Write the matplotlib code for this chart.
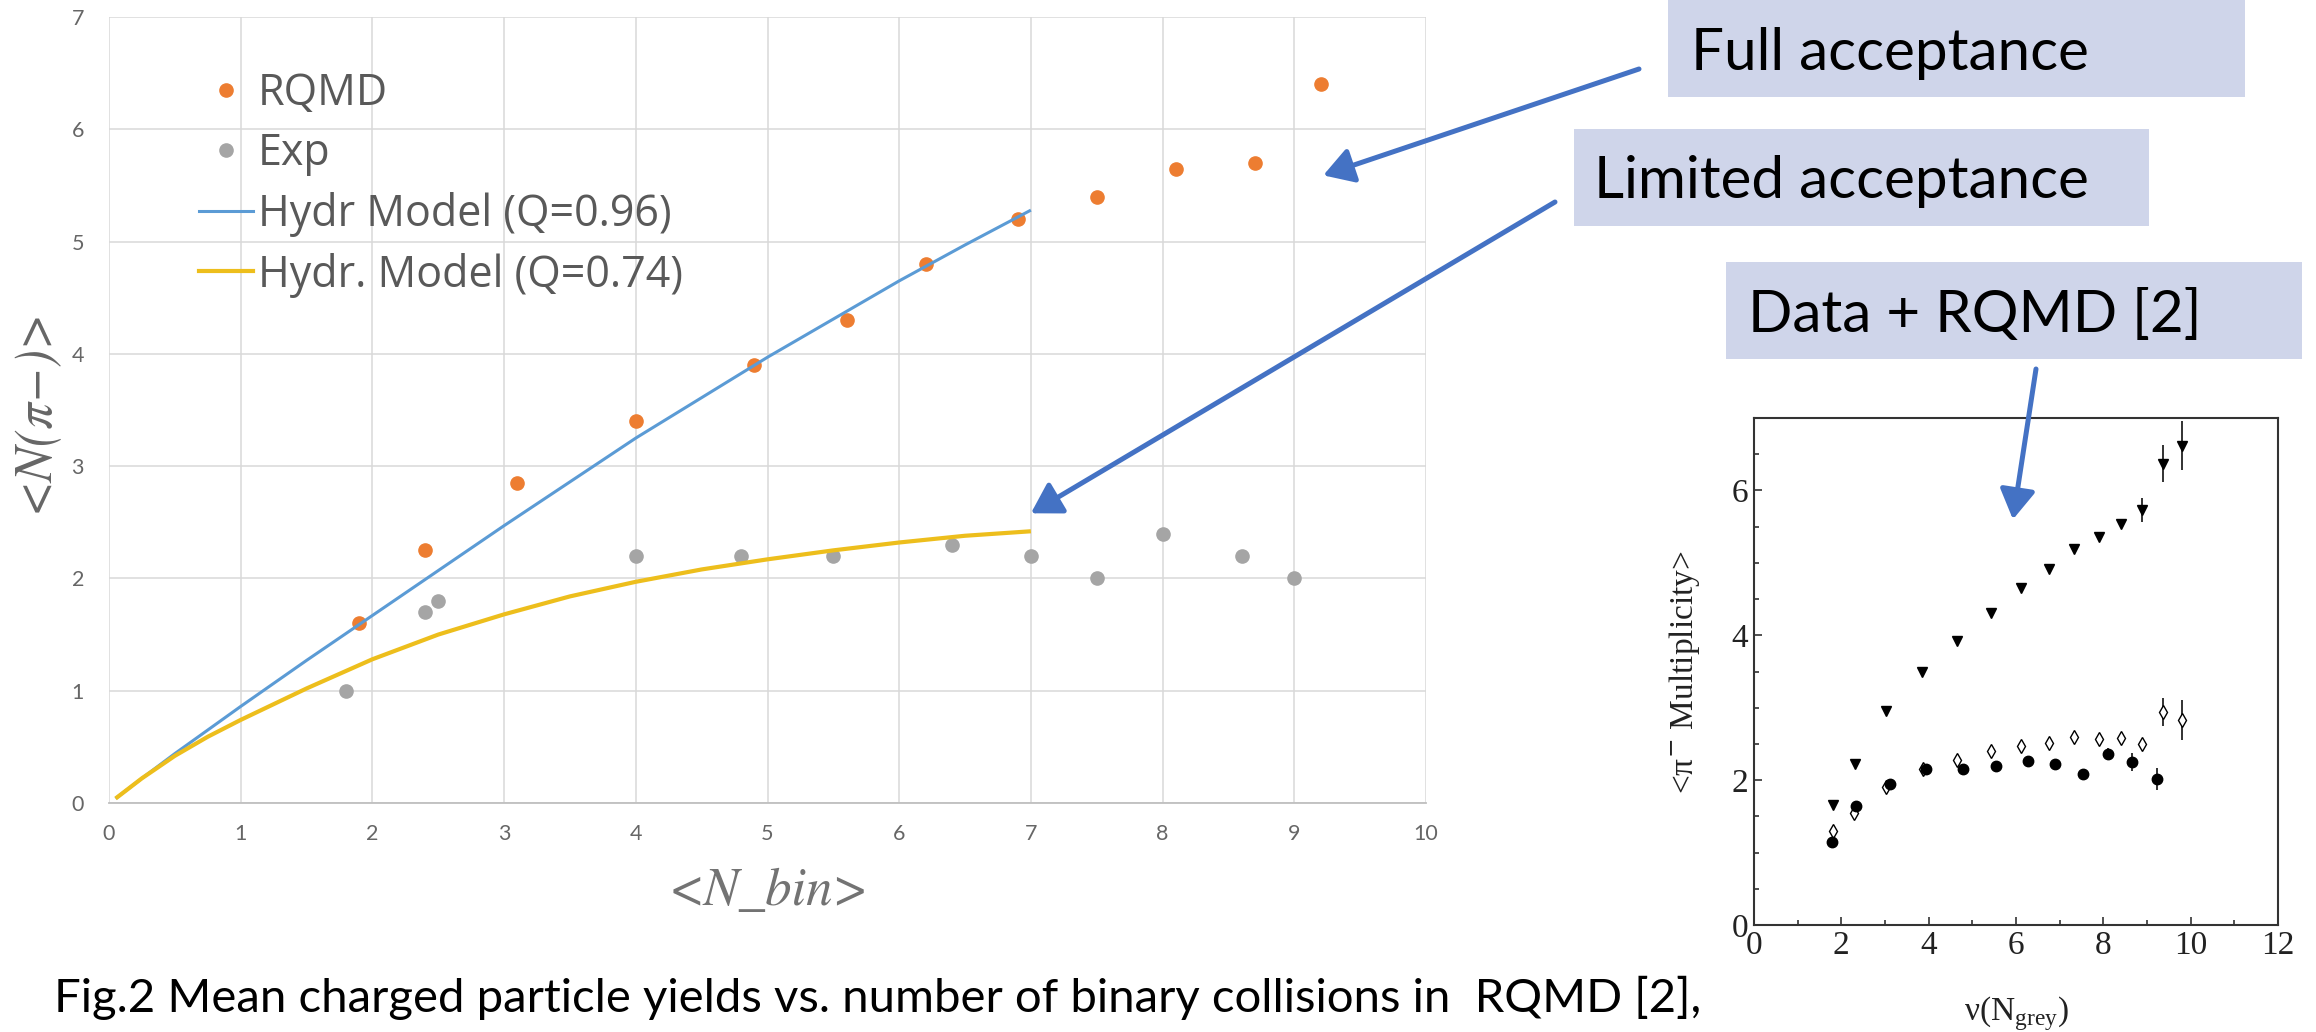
import matplotlib
matplotlib.use("Agg")
import matplotlib.pyplot as plt
from matplotlib.lines import Line2D
from matplotlib.patches import Rectangle
from matplotlib.ticker import MultipleLocator

# ---------------- data: main chart ----------------
rqmd_x = [1.9, 2.4, 3.1, 4.0, 4.9, 5.6, 6.2, 6.9, 7.5, 8.1, 8.7, 9.2]
rqmd_y = [1.6, 2.25, 2.85, 3.4, 3.9, 4.3, 4.8, 5.2, 5.4, 5.65, 5.7, 6.4]

exp_x = [1.8, 2.4, 2.5, 4.0, 4.8, 5.5, 6.4, 7.0, 7.5, 8.0, 8.6, 9.0]
exp_y = [1.0, 1.7, 1.8, 2.2, 2.2, 2.2, 2.3, 2.2, 2.0, 2.4, 2.2, 2.0]

hydr96_x = [0.05, 0.25, 0.5, 1.0, 1.5, 2.0, 2.5, 3.0, 3.5, 4.0, 4.5, 5.0, 5.5, 6.0, 6.5, 7.0]
hydr96_y = [0.04, 0.22, 0.44, 0.86, 1.27, 1.67, 2.07, 2.47, 2.86, 3.25, 3.61, 3.97, 4.31, 4.65, 4.97, 5.28]

hydr74_x = [0.05, 0.25, 0.5, 0.75, 1.0, 1.25, 1.5, 2.0, 2.5, 3.0, 3.5, 4.0, 4.5, 5.0, 5.5, 6.0, 6.5, 7.0]
hydr74_y = [0.04, 0.22, 0.42, 0.59, 0.74, 0.88, 1.02, 1.28, 1.50, 1.68, 1.84, 1.97, 2.08, 2.17, 2.25, 2.32, 2.38, 2.42]

main_xticks = [0, 1, 2, 3, 4, 5, 6, 7, 8, 9, 10]
main_yticks = [0, 1, 2, 3, 4, 5, 6, 7]
legend_labels = ["RQMD", "Exp", "Hydr Model (Q=0.96)", "Hydr. Model (Q=0.74)"]

# ---------------- data: inset (Data + RQMD [2]) ----------------
tri_x = [1.80, 2.32, 3.02, 3.85, 4.65, 5.42, 6.11, 6.75, 7.33, 7.89, 8.40, 8.89, 9.37, 9.80]
tri_y = [1.66, 2.22, 2.96, 3.49, 3.92, 4.31, 4.65, 4.91, 5.19, 5.36, 5.53, 5.73, 6.37, 6.62]
tri_err = [0, 0, 0, 0, 0, 0, 0, 0, 0, 0, 0, 0.16, 0.26, 0.34]

dia_x = [1.81, 2.30, 3.03, 3.87, 4.65, 5.42, 6.11, 6.75, 7.33, 7.89, 8.40, 8.89, 9.37, 9.80]
dia_y = [1.30, 1.55, 1.90, 2.15, 2.28, 2.40, 2.47, 2.51, 2.59, 2.57, 2.58, 2.50, 2.94, 2.83]
dia_err = [0, 0, 0, 0, 0, 0, 0, 0, 0, 0, 0, 0.06, 0.19, 0.28]

circ_x = [1.78, 2.34, 3.11, 3.95, 4.79, 5.55, 6.27, 6.90, 7.53, 8.11, 8.66, 9.22]
circ_y = [1.15, 1.64, 1.95, 2.15, 2.16, 2.19, 2.26, 2.22, 2.09, 2.36, 2.25, 2.02]
circ_err = [0, 0, 0, 0, 0, 0, 0, 0, 0, 0.08, 0.12, 0.15]

inset_xticks = [0, 2, 4, 6, 8, 10, 12]
inset_yticks = [0, 2, 4, 6]

# ---------------- figure ----------------
W, H = 2316, 1032
fig = plt.figure(figsize=(W / 100, H / 100), dpi=100)
fig.patch.set_facecolor("white")


def fx(px):
    return px / W


def fy(py):
    return 1 - py / H


ORANGE = "#ED7D31"
GREY = "#A5A5A5"
BLUE = "#5B9BD5"
YELLOW = "#EDBE1C"
ARROW = "#4472C4"
BOXC = "#CFD5EA"
TXT = "#595959"

# ---------------- main axes ----------------
ax = fig.add_axes([fx(109), fy(803), fx(1426) - fx(109), fy(17) - fy(803)])
ax.set_xlim(0, 10)
ax.set_ylim(0, 7)
ax.set_xticks(main_xticks)
ax.set_yticks(main_yticks)
ax.grid(True, color="#D9D9D9", linewidth=1.1)
ax.set_axisbelow(True)
for s in ["top", "right", "left"]:
    ax.spines[s].set_visible(False)
ax.spines["bottom"].set_color("#BFBFBF")
ax.spines["bottom"].set_linewidth(1.3)
ax.tick_params(axis="both", length=0, labelsize=15.5, labelcolor="#666666")
ax.tick_params(axis="y", pad=18)
ax.tick_params(axis="x", pad=15)
for lab in ax.get_xticklabels() + ax.get_yticklabels():
    lab.set_family("Lato")

ax.plot(rqmd_x, rqmd_y, linestyle="none", marker="o", ms=9.5, color=ORANGE, mec=ORANGE, zorder=3)
ax.plot(exp_x, exp_y, linestyle="none", marker="o", ms=9.5, color=GREY, mec=GREY, zorder=3)
ax.plot(hydr96_x, hydr96_y, color=BLUE, lw=2.2, zorder=4, solid_capstyle="butt")
ax.plot(hydr74_x, hydr74_y, color=YELLOW, lw=3.0, zorder=4, solid_capstyle="butt")

fig.text(fx(35), fy(410), "<N(π−)>", family="STIXGeneral", style="italic", fontsize=38,
         color="#666666", rotation=90, ha="center", va="center")
fig.text(fx(769), fy(905), "<N_bin>", family="STIXGeneral", style="italic", fontsize=38,
         color="#737373", ha="center", va="baseline")

handles = [
    Line2D([], [], linestyle="none", marker="o", ms=9.5, color=ORANGE),
    Line2D([], [], linestyle="none", marker="o", ms=9.5, color=GREY),
    Line2D([], [], color=BLUE, lw=2.2),
    Line2D([], [], color=YELLOW, lw=3.0),
]
leg = ax.legend(handles, legend_labels, loc="upper left", bbox_to_anchor=(fx(199), fy(72)),
                bbox_transform=fig.transFigure, frameon=False, prop={"family": "Open Sans", "size": 31},
                labelcolor=TXT, handlelength=1.25, handletextpad=0.12, labelspacing=0.36,
                borderpad=0, borderaxespad=0)

# ---------------- inset axes ----------------
ax2 = fig.add_axes([fx(1754), fy(925), fx(2278) - fx(1754), fy(418) - fy(925)])
ax2.set_xlim(0, 12)
ax2.set_ylim(0, 7)
ax2.set_xticks(inset_xticks)
ax2.set_yticks(inset_yticks)
ax2.xaxis.set_minor_locator(MultipleLocator(1))
ax2.yaxis.set_minor_locator(MultipleLocator(0.5))
for s in ax2.spines.values():
    s.set_color("#333333")
    s.set_linewidth(1.5)
ax2.tick_params(which="both", direction="in", top=False, right=False, color="#333333", width=1.2)
ax2.tick_params(which="major", length=6, labelsize=24, pad=4)
ax2.tick_params(which="minor", length=3.5)
for lab in ax2.get_xticklabels() + ax2.get_yticklabels():
    lab.set_family("Liberation Serif")
    lab.set_color("#222222")

ax2.errorbar(tri_x, tri_y, yerr=tri_err, fmt="v", ms=7.5, color="black", ecolor="#222222", elinewidth=1.3, capsize=0)
ax2.errorbar(dia_x, dia_y, yerr=dia_err, fmt="d", ms=7, mfc="white", mec="black", mew=1.0,
             ecolor="#222222", elinewidth=1.3, capsize=0)
ax2.errorbar(circ_x, circ_y, yerr=circ_err, fmt="o", ms=7.5, color="black", ecolor="#222222", elinewidth=1.3, capsize=0)

fig.text(fx(1685), fy(672), "<π$^{-}$ Multiplicity>", family="Liberation Serif", fontsize=24,
         color="#222222", rotation=90, ha="center", va="center")
fig.text(fx(2016), fy(1020), "ν(N$_{\\mathregular{grey}}$)", family="Liberation Serif", fontsize=24,
         color="#222222", ha="center", va="baseline")

# ---------------- boxes with labels ----------------
boxes = [
    ((1668, 0, 2245, 97), "Full acceptance", (1691, 70)),
    ((1574, 129, 2149, 226), "Limited acceptance", (1594, 198)),
    ((1726, 262, 2302, 359), "Data + RQMD [2]", (1748, 332)),
]
for (x0, y0, x1, y1), label, (tx, ty) in boxes:
    fig.add_artist(Rectangle((fx(x0), fy(y1)), fx(x1) - fx(x0), fy(y0) - fy(y1),
                             transform=fig.transFigure, facecolor=BOXC, edgecolor="none", zorder=1))
    fig.text(fx(tx), fy(ty), label, family="Lato", fontsize=42, color="black", ha="left", va="baseline", zorder=2)

# ---------------- arrows ----------------
arrow_kw = dict(arrowstyle="-|>,head_length=0.75,head_width=0.45", color=ARROW, lw=3.6,
                shrinkA=0, shrinkB=0, mutation_scale=24)
ax.annotate("", xy=(9.22, 5.59), xycoords="data", xytext=(fx(1639), fy(69)), textcoords="figure fraction",
            arrowprops=arrow_kw, annotation_clip=False, zorder=6)
ax.annotate("", xy=(7.0, 2.58), xycoords="data", xytext=(fx(1555), fy(202)), textcoords="figure fraction",
            arrowprops=arrow_kw, annotation_clip=False, zorder=6)
ax2.annotate("", xy=(5.93, 5.6), xycoords="data", xytext=(fx(2036), fy(369)), textcoords="figure fraction",
             arrowprops=arrow_kw, annotation_clip=False, zorder=6)

# ---------------- caption ----------------
fig.text(fx(54), fy(1012),
         "Fig.2 Mean charged particle yields vs. number of binary collisions in  RQMD [2],",
         family="Lato", fontsize=34, color="black", ha="left", va="baseline")

fig.savefig("out.png", dpi=100, facecolor="white")
